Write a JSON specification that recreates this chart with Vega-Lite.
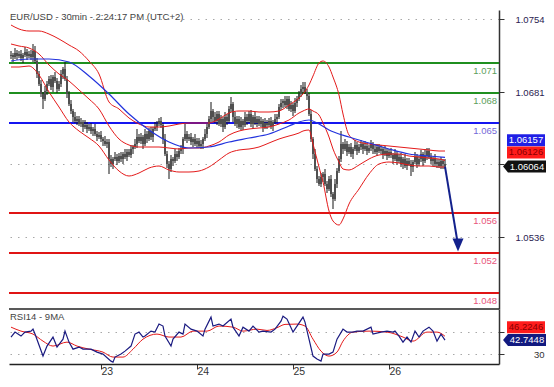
{
"$schema": "https://vega.github.io/schema/vega-lite/v6.json",
"background": "white",
"padding": {"left": 8, "top": 10, "right": 0, "bottom": 0},
"spacing": 0,
"bounds": "flush",
"datasets": {
"levels": [{"v":1.071,"kind":"resistance"},{"v":1.068,"kind":"resistance"},{"v":1.065,"kind":"pivot"},{"v":1.056,"kind":"support"},{"v":1.052,"kind":"support"},{"v":1.048,"kind":"support"}],
"bars": [
{"t":1,"o":1.0717,"h":1.0722,"l":1.0714,"c":1.0718},
{"t":2,"o":1.0718,"h":1.0720,"l":1.0711,"c":1.0716},
{"t":3,"o":1.0716,"h":1.0725,"l":1.0714,"c":1.0720},
{"t":4,"o":1.0720,"h":1.0723,"l":1.0713,"c":1.0717},
{"t":5,"o":1.0717,"h":1.0722,"l":1.0715,"c":1.0719},
{"t":6,"o":1.0719,"h":1.0723,"l":1.0712,"c":1.0715},
{"t":7,"o":1.0715,"h":1.0720,"l":1.0710,"c":1.0718},
{"t":8,"o":1.0718,"h":1.0726,"l":1.0716,"c":1.0721},
{"t":9,"o":1.0721,"h":1.0724,"l":1.0713,"c":1.0717},
{"t":10,"o":1.0717,"h":1.0722,"l":1.0715,"c":1.0719},
{"t":11,"o":1.0719,"h":1.0723,"l":1.0713,"c":1.0716},
{"t":12,"o":1.0716,"h":1.0729,"l":1.0711,"c":1.0722},
{"t":13,"o":1.0722,"h":1.0727,"l":1.0710,"c":1.0712},
{"t":14,"o":1.0712,"h":1.0715,"l":1.0695,"c":1.0699},
{"t":15,"o":1.0699,"h":1.0702,"l":1.0687,"c":1.0689},
{"t":16,"o":1.0689,"h":1.0693,"l":1.0676,"c":1.0679},
{"t":17,"o":1.0679,"h":1.0681,"l":1.0664,"c":1.0674},
{"t":18,"o":1.0674,"h":1.0687,"l":1.0672,"c":1.0682},
{"t":19,"o":1.0682,"h":1.0692,"l":1.0678,"c":1.0689},
{"t":20,"o":1.0689,"h":1.0697,"l":1.0687,"c":1.0694},
{"t":21,"o":1.0694,"h":1.0698,"l":1.0683,"c":1.0686},
{"t":22,"o":1.0686,"h":1.0698,"l":1.0681,"c":1.0696},
{"t":23,"o":1.0696,"h":1.0701,"l":1.0690,"c":1.0692},
{"t":24,"o":1.0692,"h":1.0695,"l":1.0680,"c":1.0684},
{"t":25,"o":1.0684,"h":1.0692,"l":1.0682,"c":1.0689},
{"t":26,"o":1.0689,"h":1.0703,"l":1.0686,"c":1.0699},
{"t":27,"o":1.0699,"h":1.0706,"l":1.0694,"c":1.0704},
{"t":28,"o":1.0704,"h":1.0711,"l":1.0692,"c":1.0694},
{"t":29,"o":1.0694,"h":1.0697,"l":1.0675,"c":1.0679},
{"t":30,"o":1.0679,"h":1.0682,"l":1.0667,"c":1.0669},
{"t":31,"o":1.0669,"h":1.0673,"l":1.0659,"c":1.0662},
{"t":32,"o":1.0662,"h":1.0664,"l":1.0651,"c":1.0656},
{"t":33,"o":1.0656,"h":1.0661,"l":1.0650,"c":1.0652},
{"t":34,"o":1.0652,"h":1.0657,"l":1.0648,"c":1.0654},
{"t":35,"o":1.0654,"h":1.0657,"l":1.0647,"c":1.0649},
{"t":36,"o":1.0649,"h":1.0655,"l":1.0646,"c":1.0651},
{"t":37,"o":1.0651,"h":1.0653,"l":1.0641,"c":1.0646},
{"t":38,"o":1.0646,"h":1.0653,"l":1.0644,"c":1.0648},
{"t":39,"o":1.0648,"h":1.0651,"l":1.0640,"c":1.0644},
{"t":40,"o":1.0644,"h":1.0649,"l":1.0642,"c":1.0646},
{"t":41,"o":1.0646,"h":1.0650,"l":1.0639,"c":1.0642},
{"t":42,"o":1.0642,"h":1.0646,"l":1.0637,"c":1.0644},
{"t":43,"o":1.0644,"h":1.0649,"l":1.0637,"c":1.0639},
{"t":44,"o":1.0639,"h":1.0642,"l":1.0632,"c":1.0636},
{"t":45,"o":1.0636,"h":1.0641,"l":1.0634,"c":1.0638},
{"t":46,"o":1.0638,"h":1.0642,"l":1.0631,"c":1.0634},
{"t":47,"o":1.0634,"h":1.0636,"l":1.0627,"c":1.0632},
{"t":48,"o":1.0632,"h":1.0637,"l":1.0627,"c":1.0629},
{"t":49,"o":1.0629,"h":1.0634,"l":1.0625,"c":1.0631},
{"t":50,"o":1.0631,"h":1.0634,"l":1.0599,"c":1.0614},
{"t":51,"o":1.0614,"h":1.0618,"l":1.0606,"c":1.0609},
{"t":52,"o":1.0609,"h":1.0616,"l":1.0604,"c":1.0614},
{"t":53,"o":1.0614,"h":1.0621,"l":1.0612,"c":1.0616},
{"t":54,"o":1.0616,"h":1.0619,"l":1.0608,"c":1.0612},
{"t":55,"o":1.0612,"h":1.0620,"l":1.0610,"c":1.0617},
{"t":56,"o":1.0617,"h":1.0621,"l":1.0611,"c":1.0614},
{"t":57,"o":1.0614,"h":1.0621,"l":1.0609,"c":1.0619},
{"t":58,"o":1.0619,"h":1.0624,"l":1.0614,"c":1.0616},
{"t":59,"o":1.0616,"h":1.0624,"l":1.0612,"c":1.0621},
{"t":60,"o":1.0621,"h":1.0624,"l":1.0616,"c":1.0618},
{"t":61,"o":1.0618,"h":1.0628,"l":1.0615,"c":1.0624},
{"t":62,"o":1.0624,"h":1.0628,"l":1.0619,"c":1.0626},
{"t":63,"o":1.0626,"h":1.0634,"l":1.0624,"c":1.0629},
{"t":64,"o":1.0629,"h":1.0644,"l":1.0625,"c":1.0636},
{"t":65,"o":1.0636,"h":1.0639,"l":1.0630,"c":1.0632},
{"t":66,"o":1.0632,"h":1.0640,"l":1.0629,"c":1.0636},
{"t":67,"o":1.0636,"h":1.0638,"l":1.0624,"c":1.0629},
{"t":68,"o":1.0629,"h":1.0644,"l":1.0627,"c":1.0639},
{"t":69,"o":1.0639,"h":1.0642,"l":1.0630,"c":1.0634},
{"t":70,"o":1.0634,"h":1.0645,"l":1.0632,"c":1.0642},
{"t":71,"o":1.0642,"h":1.0646,"l":1.0633,"c":1.0636},
{"t":72,"o":1.0636,"h":1.0646,"l":1.0631,"c":1.0644},
{"t":73,"o":1.0644,"h":1.0651,"l":1.0642,"c":1.0646},
{"t":74,"o":1.0646,"h":1.0652,"l":1.0642,"c":1.0649},
{"t":75,"o":1.0649,"h":1.0655,"l":1.0647,"c":1.0652},
{"t":76,"o":1.0652,"h":1.0656,"l":1.0645,"c":1.0648},
{"t":77,"o":1.0648,"h":1.0650,"l":1.0629,"c":1.0634},
{"t":78,"o":1.0634,"h":1.0639,"l":1.0617,"c":1.0619},
{"t":79,"o":1.0619,"h":1.0622,"l":1.0605,"c":1.0609},
{"t":80,"o":1.0609,"h":1.0612,"l":1.0594,"c":1.0604},
{"t":81,"o":1.0604,"h":1.0618,"l":1.0601,"c":1.0614},
{"t":82,"o":1.0614,"h":1.0616,"l":1.0607,"c":1.0612},
{"t":83,"o":1.0612,"h":1.0624,"l":1.0610,"c":1.0619},
{"t":84,"o":1.0619,"h":1.0622,"l":1.0612,"c":1.0616},
{"t":85,"o":1.0616,"h":1.0625,"l":1.0614,"c":1.0622},
{"t":86,"o":1.0622,"h":1.0628,"l":1.0619,"c":1.0624},
{"t":87,"o":1.0624,"h":1.0636,"l":1.0619,"c":1.0634},
{"t":88,"o":1.0634,"h":1.0649,"l":1.0632,"c":1.0639},
{"t":89,"o":1.0639,"h":1.0642,"l":1.0630,"c":1.0634},
{"t":90,"o":1.0634,"h":1.0639,"l":1.0632,"c":1.0636},
{"t":91,"o":1.0636,"h":1.0640,"l":1.0628,"c":1.0631},
{"t":92,"o":1.0631,"h":1.0636,"l":1.0626,"c":1.0634},
{"t":93,"o":1.0634,"h":1.0639,"l":1.0627,"c":1.0629},
{"t":94,"o":1.0629,"h":1.0635,"l":1.0625,"c":1.0632},
{"t":95,"o":1.0632,"h":1.0635,"l":1.0625,"c":1.0627},
{"t":96,"o":1.0627,"h":1.0633,"l":1.0624,"c":1.0629},
{"t":97,"o":1.0629,"h":1.0636,"l":1.0624,"c":1.0634},
{"t":98,"o":1.0634,"h":1.0644,"l":1.0632,"c":1.0639},
{"t":99,"o":1.0639,"h":1.0649,"l":1.0635,"c":1.0646},
{"t":100,"o":1.0646,"h":1.0657,"l":1.0644,"c":1.0654},
{"t":101,"o":1.0654,"h":1.0671,"l":1.0651,"c":1.0662},
{"t":102,"o":1.0662,"h":1.0664,"l":1.0651,"c":1.0656},
{"t":103,"o":1.0656,"h":1.0661,"l":1.0650,"c":1.0652},
{"t":104,"o":1.0652,"h":1.0662,"l":1.0648,"c":1.0659},
{"t":105,"o":1.0659,"h":1.0662,"l":1.0647,"c":1.0649},
{"t":106,"o":1.0649,"h":1.0658,"l":1.0646,"c":1.0654},
{"t":107,"o":1.0654,"h":1.0656,"l":1.0641,"c":1.0646},
{"t":108,"o":1.0646,"h":1.0661,"l":1.0644,"c":1.0656},
{"t":109,"o":1.0656,"h":1.0659,"l":1.0648,"c":1.0652},
{"t":110,"o":1.0652,"h":1.0667,"l":1.0650,"c":1.0664},
{"t":111,"o":1.0664,"h":1.0676,"l":1.0661,"c":1.0669},
{"t":112,"o":1.0669,"h":1.0671,"l":1.0651,"c":1.0656},
{"t":113,"o":1.0656,"h":1.0661,"l":1.0647,"c":1.0649},
{"t":114,"o":1.0649,"h":1.0657,"l":1.0645,"c":1.0654},
{"t":115,"o":1.0654,"h":1.0657,"l":1.0644,"c":1.0646},
{"t":116,"o":1.0646,"h":1.0656,"l":1.0643,"c":1.0652},
{"t":117,"o":1.0652,"h":1.0654,"l":1.0643,"c":1.0648},
{"t":118,"o":1.0648,"h":1.0661,"l":1.0646,"c":1.0656},
{"t":119,"o":1.0656,"h":1.0659,"l":1.0648,"c":1.0652},
{"t":120,"o":1.0652,"h":1.0662,"l":1.0650,"c":1.0659},
{"t":121,"o":1.0659,"h":1.0663,"l":1.0646,"c":1.0649},
{"t":122,"o":1.0649,"h":1.0658,"l":1.0644,"c":1.0656},
{"t":123,"o":1.0656,"h":1.0661,"l":1.0648,"c":1.0650},
{"t":124,"o":1.0650,"h":1.0657,"l":1.0646,"c":1.0654},
{"t":125,"o":1.0654,"h":1.0657,"l":1.0647,"c":1.0649},
{"t":126,"o":1.0649,"h":1.0656,"l":1.0646,"c":1.0652},
{"t":127,"o":1.0652,"h":1.0654,"l":1.0641,"c":1.0646},
{"t":128,"o":1.0646,"h":1.0655,"l":1.0644,"c":1.0650},
{"t":129,"o":1.0650,"h":1.0653,"l":1.0644,"c":1.0648},
{"t":130,"o":1.0648,"h":1.0655,"l":1.0646,"c":1.0652},
{"t":131,"o":1.0652,"h":1.0656,"l":1.0644,"c":1.0647},
{"t":132,"o":1.0647,"h":1.0653,"l":1.0642,"c":1.0651},
{"t":133,"o":1.0651,"h":1.0659,"l":1.0649,"c":1.0654},
{"t":134,"o":1.0654,"h":1.0659,"l":1.0650,"c":1.0656},
{"t":135,"o":1.0656,"h":1.0669,"l":1.0654,"c":1.0666},
{"t":136,"o":1.0666,"h":1.0674,"l":1.0663,"c":1.0670},
{"t":137,"o":1.0670,"h":1.0674,"l":1.0665,"c":1.0672},
{"t":138,"o":1.0672,"h":1.0677,"l":1.0666,"c":1.0668},
{"t":139,"o":1.0668,"h":1.0677,"l":1.0664,"c":1.0674},
{"t":140,"o":1.0674,"h":1.0677,"l":1.0662,"c":1.0664},
{"t":141,"o":1.0664,"h":1.0672,"l":1.0661,"c":1.0668},
{"t":142,"o":1.0668,"h":1.0670,"l":1.0657,"c":1.0662},
{"t":143,"o":1.0662,"h":1.0675,"l":1.0660,"c":1.0670},
{"t":144,"o":1.0670,"h":1.0677,"l":1.0666,"c":1.0674},
{"t":145,"o":1.0674,"h":1.0682,"l":1.0672,"c":1.0679},
{"t":146,"o":1.0679,"h":1.0688,"l":1.0676,"c":1.0684},
{"t":147,"o":1.0684,"h":1.0691,"l":1.0679,"c":1.0686},
{"t":148,"o":1.0686,"h":1.0691,"l":1.0679,"c":1.0681},
{"t":149,"o":1.0681,"h":1.0684,"l":1.0673,"c":1.0677},
{"t":150,"o":1.0677,"h":1.0680,"l":1.0657,"c":1.0659},
{"t":151,"o":1.0659,"h":1.0663,"l":1.0631,"c":1.0634},
{"t":152,"o":1.0634,"h":1.0636,"l":1.0614,"c":1.0619},
{"t":153,"o":1.0619,"h":1.0624,"l":1.0602,"c":1.0604},
{"t":154,"o":1.0604,"h":1.0607,"l":1.0590,"c":1.0594},
{"t":155,"o":1.0594,"h":1.0597,"l":1.0587,"c":1.0589},
{"t":156,"o":1.0589,"h":1.0600,"l":1.0586,"c":1.0596},
{"t":157,"o":1.0596,"h":1.0601,"l":1.0591,"c":1.0599},
{"t":158,"o":1.0599,"h":1.0604,"l":1.0587,"c":1.0589},
{"t":159,"o":1.0589,"h":1.0592,"l":1.0580,"c":1.0584},
{"t":160,"o":1.0584,"h":1.0597,"l":1.0582,"c":1.0594},
{"t":161,"o":1.0594,"h":1.0598,"l":1.0576,"c":1.0579},
{"t":162,"o":1.0579,"h":1.0581,"l":1.0564,"c":1.0574},
{"t":163,"o":1.0574,"h":1.0594,"l":1.0572,"c":1.0589},
{"t":164,"o":1.0589,"h":1.0605,"l":1.0585,"c":1.0602},
{"t":165,"o":1.0602,"h":1.0617,"l":1.0600,"c":1.0614},
{"t":166,"o":1.0614,"h":1.0642,"l":1.0611,"c":1.0629},
{"t":167,"o":1.0629,"h":1.0631,"l":1.0619,"c":1.0624},
{"t":168,"o":1.0624,"h":1.0634,"l":1.0622,"c":1.0629},
{"t":169,"o":1.0629,"h":1.0632,"l":1.0617,"c":1.0621},
{"t":170,"o":1.0621,"h":1.0629,"l":1.0619,"c":1.0626},
{"t":171,"o":1.0626,"h":1.0630,"l":1.0616,"c":1.0619},
{"t":172,"o":1.0619,"h":1.0626,"l":1.0614,"c":1.0624},
{"t":173,"o":1.0624,"h":1.0633,"l":1.0622,"c":1.0628},
{"t":174,"o":1.0628,"h":1.0631,"l":1.0618,"c":1.0622},
{"t":175,"o":1.0622,"h":1.0629,"l":1.0620,"c":1.0626},
{"t":176,"o":1.0626,"h":1.0633,"l":1.0623,"c":1.0629},
{"t":177,"o":1.0629,"h":1.0631,"l":1.0619,"c":1.0624},
{"t":178,"o":1.0624,"h":1.0632,"l":1.0622,"c":1.0627},
{"t":179,"o":1.0627,"h":1.0630,"l":1.0618,"c":1.0622},
{"t":180,"o":1.0622,"h":1.0628,"l":1.0620,"c":1.0625},
{"t":181,"o":1.0625,"h":1.0633,"l":1.0622,"c":1.0629},
{"t":182,"o":1.0629,"h":1.0631,"l":1.0619,"c":1.0624},
{"t":183,"o":1.0624,"h":1.0629,"l":1.0619,"c":1.0621},
{"t":184,"o":1.0621,"h":1.0629,"l":1.0617,"c":1.0626},
{"t":185,"o":1.0626,"h":1.0629,"l":1.0620,"c":1.0622},
{"t":186,"o":1.0622,"h":1.0628,"l":1.0619,"c":1.0624},
{"t":187,"o":1.0624,"h":1.0626,"l":1.0614,"c":1.0619},
{"t":188,"o":1.0619,"h":1.0627,"l":1.0617,"c":1.0622},
{"t":189,"o":1.0622,"h":1.0625,"l":1.0613,"c":1.0617},
{"t":190,"o":1.0617,"h":1.0624,"l":1.0615,"c":1.0621},
{"t":191,"o":1.0621,"h":1.0625,"l":1.0615,"c":1.0618},
{"t":192,"o":1.0618,"h":1.0620,"l":1.0609,"c":1.0614},
{"t":193,"o":1.0614,"h":1.0624,"l":1.0612,"c":1.0619},
{"t":194,"o":1.0619,"h":1.0622,"l":1.0608,"c":1.0612},
{"t":195,"o":1.0612,"h":1.0619,"l":1.0610,"c":1.0616},
{"t":196,"o":1.0616,"h":1.0620,"l":1.0606,"c":1.0609},
{"t":197,"o":1.0609,"h":1.0616,"l":1.0604,"c":1.0614},
{"t":198,"o":1.0614,"h":1.0619,"l":1.0605,"c":1.0607},
{"t":199,"o":1.0607,"h":1.0615,"l":1.0603,"c":1.0612},
{"t":200,"o":1.0612,"h":1.0615,"l":1.0607,"c":1.0609},
{"t":201,"o":1.0609,"h":1.0613,"l":1.0597,"c":1.0606},
{"t":202,"o":1.0606,"h":1.0613,"l":1.0601,"c":1.0611},
{"t":203,"o":1.0611,"h":1.0621,"l":1.0609,"c":1.0616},
{"t":204,"o":1.0616,"h":1.0619,"l":1.0605,"c":1.0609},
{"t":205,"o":1.0609,"h":1.0617,"l":1.0607,"c":1.0614},
{"t":206,"o":1.0614,"h":1.0623,"l":1.0611,"c":1.0619},
{"t":207,"o":1.0619,"h":1.0621,"l":1.0607,"c":1.0612},
{"t":208,"o":1.0612,"h":1.0624,"l":1.0610,"c":1.0617},
{"t":209,"o":1.0617,"h":1.0625,"l":1.0613,"c":1.0622},
{"t":210,"o":1.0622,"h":1.0625,"l":1.0614,"c":1.0616},
{"t":211,"o":1.0616,"h":1.0620,"l":1.0609,"c":1.0612},
{"t":212,"o":1.0612,"h":1.0616,"l":1.0607,"c":1.0614},
{"t":213,"o":1.0614,"h":1.0619,"l":1.0607,"c":1.0609},
{"t":214,"o":1.0609,"h":1.0614,"l":1.0605,"c":1.0611},
{"t":215,"o":1.0611,"h":1.0614,"l":1.0605,"c":1.0607},
{"t":216,"o":1.0607,"h":1.0616,"l":1.0604,"c":1.0612},
{"t":217,"o":1.0612,"h":1.0614,"l":1.0604,"c":1.0609},
{"t":218,"o":1.0609,"h":1.0614,"l":1.0604,"c":1.06064}
],
"bands": [
{"t":1,"up":1.0748,"mid":1.0729,"lo":1.0706},
{"t":5,"up":1.0744,"mid":1.0727,"lo":1.0706},
{"t":10,"up":1.0742,"mid":1.0725,"lo":1.0707},
{"t":15,"up":1.0742,"mid":1.0719,"lo":1.0698},
{"t":20,"up":1.0739,"mid":1.0708,"lo":1.0681},
{"t":25,"up":1.0734,"mid":1.0699,"lo":1.0666},
{"t":30,"up":1.0728,"mid":1.0692,"lo":1.0651},
{"t":35,"up":1.0722,"mid":1.0683,"lo":1.0642},
{"t":40,"up":1.0712,"mid":1.0674,"lo":1.0635},
{"t":45,"up":1.0699,"mid":1.0664,"lo":1.0627},
{"t":50,"up":1.0671,"mid":1.0647,"lo":1.0613},
{"t":55,"up":1.0664,"mid":1.0634,"lo":1.0602},
{"t":60,"up":1.0655,"mid":1.0628,"lo":1.0597},
{"t":65,"up":1.0649,"mid":1.0626,"lo":1.0600},
{"t":70,"up":1.0646,"mid":1.0626,"lo":1.0605},
{"t":75,"up":1.0646,"mid":1.0626,"lo":1.0607},
{"t":80,"up":1.0647,"mid":1.0625,"lo":1.0603},
{"t":85,"up":1.0649,"mid":1.0624,"lo":1.0601},
{"t":90,"up":1.0650,"mid":1.0625,"lo":1.0601},
{"t":95,"up":1.0650,"mid":1.0625,"lo":1.0602},
{"t":100,"up":1.0650,"mid":1.0627,"lo":1.0606},
{"t":105,"up":1.0654,"mid":1.0631,"lo":1.0613},
{"t":110,"up":1.0660,"mid":1.0638,"lo":1.0620},
{"t":115,"up":1.0662,"mid":1.0642,"lo":1.0623},
{"t":120,"up":1.0662,"mid":1.0644,"lo":1.0624},
{"t":125,"up":1.0661,"mid":1.0645,"lo":1.0626},
{"t":130,"up":1.0661,"mid":1.0646,"lo":1.0630},
{"t":135,"up":1.0662,"mid":1.0649,"lo":1.0634},
{"t":140,"up":1.0668,"mid":1.0653,"lo":1.0637},
{"t":145,"up":1.0675,"mid":1.0660,"lo":1.0640},
{"t":147,"up":1.0679,"mid":1.0662,"lo":1.0642},
{"t":150,"up":1.0688,"mid":1.0664,"lo":1.0643},
{"t":152,"up":1.0697,"mid":1.0662,"lo":1.0629},
{"t":155,"up":1.0710,"mid":1.0658,"lo":1.0606},
{"t":157,"up":1.0712,"mid":1.0650,"lo":1.0591},
{"t":160,"up":1.0706,"mid":1.0636,"lo":1.0562},
{"t":162,"up":1.0696,"mid":1.0624,"lo":1.0552},
{"t":165,"up":1.0678,"mid":1.0611,"lo":1.0548},
{"t":167,"up":1.0659,"mid":1.0604,"lo":1.0554},
{"t":170,"up":1.0638,"mid":1.0603,"lo":1.0569},
{"t":175,"up":1.0631,"mid":1.0608,"lo":1.0584},
{"t":180,"up":1.0629,"mid":1.0614,"lo":1.0599},
{"t":185,"up":1.0628,"mid":1.0618,"lo":1.0609},
{"t":190,"up":1.0627,"mid":1.0619,"lo":1.0611},
{"t":195,"up":1.0626,"mid":1.0619,"lo":1.0610},
{"t":200,"up":1.0625,"mid":1.0617,"lo":1.0608},
{"t":205,"up":1.0624,"mid":1.0616,"lo":1.0607},
{"t":210,"up":1.0623,"mid":1.0615,"lo":1.0607},
{"t":215,"up":1.0622,"mid":1.0614,"lo":1.0606},
{"t":218,"up":1.0622,"mid":1.06126,"lo":1.0606}
],
"ma": [
{"t":1,"v":1.0712},{"t":10,"v":1.0714},{"t":20,"v":1.0714},{"t":30,"v":1.0711},{"t":40,"v":1.0697},{"t":50,"v":1.0679},{"t":60,"v":1.0659},{"t":70,"v":1.0643},{"t":80,"v":1.0631},{"t":90,"v":1.0625},{"t":100,"v":1.0626},{"t":110,"v":1.0631},{"t":120,"v":1.0635},{"t":130,"v":1.0639},{"t":140,"v":1.0647},{"t":145,"v":1.0651},{"t":150,"v":1.0653},{"t":155,"v":1.0649},{"t":160,"v":1.0643},{"t":170,"v":1.0636},{"t":180,"v":1.0630},{"t":190,"v":1.0624},{"t":200,"v":1.0619},{"t":210,"v":1.0617},{"t":218,"v":1.06157}
],
"arrow": [{"t":218,"p":1.06064},{"t":224.5,"p":1.0528}],
"tags": [{"series":"ma","v":1.06157},{"series":"mid","v":1.06126},{"series":"close","v":1.06064}],
"rsi": [
{"t":1,"v":45.5},{"t":3,"v":50.0},{"t":6,"v":46.4},{"t":8,"v":50.0},{"t":11,"v":50.9},{"t":12,"v":52.7},{"t":13,"v":48.2},{"t":17,"v":28.2},{"t":19,"v":37.3},{"t":22,"v":45.5},{"t":24,"v":36.4},{"t":27,"v":43.6},{"t":28,"v":50.9},{"t":30,"v":40.9},{"t":32,"v":34.5},{"t":35,"v":36.4},{"t":37,"v":34.5},{"t":41,"v":34.5},{"t":44,"v":31.8},{"t":47,"v":30.0},{"t":51,"v":23.6},{"t":52,"v":22.7},{"t":53,"v":27.3},{"t":56,"v":30.0},{"t":58,"v":32.7},{"t":61,"v":37.3},{"t":63,"v":48.2},{"t":65,"v":50.0},{"t":67,"v":45.5},{"t":68,"v":46.4},{"t":71,"v":50.9},{"t":73,"v":50.0},{"t":75,"v":57.3},{"t":77,"v":55.5},{"t":78,"v":46.4},{"t":81,"v":37.3},{"t":82,"v":43.6},{"t":85,"v":50.0},{"t":87,"v":48.2},{"t":88,"v":57.3},{"t":91,"v":52.7},{"t":94,"v":50.9},{"t":97,"v":46.4},{"t":98,"v":52.7},{"t":101,"v":63.6},{"t":102,"v":55.5},{"t":105,"v":57.3},{"t":107,"v":55.5},{"t":111,"v":61.8},{"t":112,"v":54.5},{"t":115,"v":46.4},{"t":117,"v":54.5},{"t":120,"v":50.9},{"t":122,"v":55.5},{"t":125,"v":50.0},{"t":127,"v":50.9},{"t":131,"v":50.0},{"t":133,"v":52.7},{"t":136,"v":60.0},{"t":137,"v":64.5},{"t":139,"v":61.8},{"t":142,"v":50.0},{"t":144,"v":55.5},{"t":147,"v":63.6},{"t":148,"v":59.1},{"t":150,"v":43.6},{"t":152,"v":28.2},{"t":154,"v":25.5},{"t":156,"v":23.6},{"t":157,"v":30.0},{"t":160,"v":30.0},{"t":162,"v":31.8},{"t":164,"v":43.6},{"t":167,"v":52.7},{"t":169,"v":50.0},{"t":172,"v":50.0},{"t":174,"v":50.9},{"t":177,"v":50.9},{"t":181,"v":54.5},{"t":182,"v":48.2},{"t":186,"v":50.0},{"t":189,"v":50.9},{"t":192,"v":50.0},{"t":193,"v":50.9},{"t":195,"v":46.4},{"t":197,"v":40.9},{"t":199,"v":45.5},{"t":201,"v":40.9},{"t":203,"v":50.9},{"t":205,"v":45.5},{"t":207,"v":50.9},{"t":210,"v":54.5},{"t":212,"v":50.9},{"t":214,"v":41.8},{"t":216,"v":48.2},{"t":218,"v":42.7448}
],
"rsima": [
{"t":1,"v":54.5},{"t":6,"v":50.9},{"t":12,"v":48.2},{"t":17,"v":41.8},{"t":22,"v":37.3},{"t":29,"v":40.9},{"t":34,"v":37.3},{"t":40,"v":34.5},{"t":47,"v":31.8},{"t":52,"v":27.3},{"t":57,"v":27.3},{"t":62,"v":34.5},{"t":67,"v":43.6},{"t":74,"v":48.2},{"t":80,"v":45.5},{"t":86,"v":45.5},{"t":92,"v":50.9},{"t":99,"v":50.9},{"t":105,"v":55.5},{"t":112,"v":54.5},{"t":117,"v":50.9},{"t":124,"v":52.7},{"t":129,"v":51.5},{"t":134,"v":54.0},{"t":138,"v":57.0},{"t":144,"v":57.3},{"t":148,"v":55.5},{"t":152,"v":43.6},{"t":156,"v":32.7},{"t":160,"v":28.2},{"t":164,"v":31.8},{"t":167,"v":41.8},{"t":172,"v":50.0},{"t":180,"v":50.9},{"t":189,"v":50.0},{"t":197,"v":45.5},{"t":202,"v":41.8},{"t":209,"v":50.0},{"t":214,"v":50.0},{"t":218,"v":46.2246}
],
"rsitags": [{"series":"ma","v":46.2246},{"series":"rsi","v":42.7448}]
},
"vconcat": [
{
"width": 490, "height": 299,
"resolve": {"scale": {"color": "independent"}},
"layer": [
{"data": {"name": "levels"}, "mark": {"type": "rule", "strokeWidth": 2},
 "encoding": {
  "y": {"field": "v", "type": "quantitative", "title": null,
        "scale": {"domain": [1.0464, 1.0763], "nice": false, "zero": false},
        "axis": {"orient": "right", "values": [1.0754, 1.0681, 1.0609, 1.0536],
                 "labelExpr": "abs(datum.value - 1.0609) < 0.00005 ? '' : format(datum.value, '.4f')",
                 "grid": true, "gridDash": [1.5, 6], "gridColor": "#a8a8a8",
                 "domainColor": "#333333", "domainWidth": 1.5, "tickColor": "#333333", "tickSize": 5,
                 "labelAlign": "right", "labelBaseline": "middle", "labelPadding": 40}},
  "color": {"field": "kind", "type": "nominal", "legend": null,
            "scale": {"domain": ["resistance", "pivot", "support"], "range": ["#1f8f1f", "#1515f0", "#e01414"]}}}},
{"data": {"name": "levels"}, "mark": {"type": "text", "align": "right", "baseline": "middle", "dy": 8, "fontSize": 9.5},
 "encoding": {
  "x": {"datum": 244, "type": "quantitative", "scale": {"domain": [0, 245], "nice": false, "zero": false}, "axis": null, "title": null},
  "y": {"field": "v", "type": "quantitative", "title": null},
  "text": {"field": "v", "type": "quantitative", "format": ".3f"},
  "color": {"field": "kind", "type": "nominal", "legend": null,
            "scale": {"domain": ["resistance", "pivot", "support"], "range": ["#5c9e5c", "#7468d8", "#e8557c"]}}}},
{"data": {"name": "bars"}, "mark": {"type": "rule", "strokeWidth": 2, "color": "#8c8c8c"},
 "encoding": {
  "x": {"field": "t", "type": "quantitative", "scale": {"domain": [0, 245], "nice": false, "zero": false}, "axis": null, "title": null},
  "y": {"field": "o", "type": "quantitative", "title": null}, "y2": {"field": "c"}}},
{"data": {"name": "bars"}, "mark": {"type": "rule", "strokeWidth": 1, "color": "#151515"},
 "encoding": {
  "x": {"field": "t", "type": "quantitative", "axis": null, "title": null},
  "y": {"field": "l", "type": "quantitative", "title": null}, "y2": {"field": "h"}}},
{"data": {"name": "bands"}, "mark": {"type": "line", "color": "#e41a1a", "strokeWidth": 1, "interpolate": "monotone"},
 "encoding": {"x": {"field": "t", "type": "quantitative", "axis": null, "title": null}, "y": {"field": "up", "type": "quantitative", "title": null}}},
{"data": {"name": "bands"}, "mark": {"type": "line", "color": "#e41a1a", "strokeWidth": 1, "interpolate": "monotone"},
 "encoding": {"x": {"field": "t", "type": "quantitative", "axis": null, "title": null}, "y": {"field": "mid", "type": "quantitative", "title": null}}},
{"data": {"name": "bands"}, "mark": {"type": "line", "color": "#e41a1a", "strokeWidth": 1, "interpolate": "monotone"},
 "encoding": {"x": {"field": "t", "type": "quantitative", "axis": null, "title": null}, "y": {"field": "lo", "type": "quantitative", "title": null}}},
{"data": {"name": "ma"}, "mark": {"type": "line", "color": "#2233dd", "strokeWidth": 1.2, "interpolate": "monotone"},
 "encoding": {"x": {"field": "t", "type": "quantitative", "axis": null, "title": null}, "y": {"field": "v", "type": "quantitative", "title": null}}},
{"data": {"name": "arrow"}, "mark": {"type": "line", "color": "#13218c", "strokeWidth": 2},
 "encoding": {"x": {"field": "t", "type": "quantitative", "axis": null, "title": null}, "y": {"field": "p", "type": "quantitative", "title": null}}},
{"data": {"name": "arrow"}, "transform": [{"filter": "datum.t > 220"}],
 "mark": {"type": "point", "shape": "M-1,-1.2L1,-1.2L0,1.2Z", "size": 121, "filled": true, "opacity": 1, "color": "#13218c"},
 "encoding": {"x": {"field": "t", "type": "quantitative", "axis": null, "title": null}, "y": {"field": "p", "type": "quantitative", "title": null}}},
{"data": {"values": [{"label": "EUR/USD - 30min - 2:24:17 PM (UTC+2)"}]},
 "mark": {"type": "text", "align": "left", "baseline": "top", "dx": 1, "dy": 2, "fontSize": 9.5, "color": "#444444"},
 "encoding": {"x": {"datum": 0, "type": "quantitative", "axis": null, "title": null}, "y": {"datum": 1.0763, "type": "quantitative", "title": null}, "text": {"field": "label"}}},
{"data": {"name": "tags"}, "transform": [{"filter": "datum.series == 'ma'"}],
 "mark": {"type": "point", "shape": "M-1,-0.3158H1V0.3158H-1Z", "size": 1444, "filled": true, "opacity": 1, "color": "#1f1fe6", "yOffset": -17},
 "encoding": {"x": {"datum": 258.5, "type": "quantitative", "axis": null, "title": null}, "y": {"field": "v", "type": "quantitative", "title": null}}},
{"data": {"name": "tags"}, "transform": [{"filter": "datum.series == 'ma'"}],
 "mark": {"type": "text", "color": "white", "yOffset": -17, "fontSize": 9.5, "align": "center", "baseline": "middle"},
 "encoding": {"x": {"datum": 258.5, "type": "quantitative", "axis": null, "title": null}, "y": {"field": "v", "type": "quantitative", "title": null}, "text": {"field": "v", "type": "quantitative", "format": ".5f"}}},
{"data": {"name": "tags"}, "transform": [{"filter": "datum.series == 'mid'"}],
 "mark": {"type": "point", "shape": "M-1,-0.3158H1V0.3158H-1Z", "size": 1444, "filled": true, "opacity": 1, "color": "#ff1c1c", "yOffset": -8},
 "encoding": {"x": {"datum": 258.5, "type": "quantitative", "axis": null, "title": null}, "y": {"field": "v", "type": "quantitative", "title": null}}},
{"data": {"name": "tags"}, "transform": [{"filter": "datum.series == 'mid'"}],
 "mark": {"type": "text", "color": "#8a0000", "yOffset": -8, "fontSize": 9.5, "align": "center", "baseline": "middle"},
 "encoding": {"x": {"datum": 258.5, "type": "quantitative", "axis": null, "title": null}, "y": {"field": "v", "type": "quantitative", "title": null}, "text": {"field": "v", "type": "quantitative", "format": ".5f"}}},
{"data": {"name": "tags"}, "transform": [{"filter": "datum.series == 'close'"}],
 "mark": {"type": "point", "shape": "M-1.26,0L-1,-0.3158H1V0.3158H-1Z", "size": 1444, "filled": true, "opacity": 1, "color": "#111111"},
 "encoding": {"x": {"datum": 259, "type": "quantitative", "axis": null, "title": null}, "y": {"field": "v", "type": "quantitative", "title": null}}},
{"data": {"name": "tags"}, "transform": [{"filter": "datum.series == 'close'"}],
 "mark": {"type": "text", "color": "white", "fontSize": 9.5, "align": "center", "baseline": "middle"},
 "encoding": {"x": {"datum": 259, "type": "quantitative", "axis": null, "title": null}, "y": {"field": "v", "type": "quantitative", "title": null}, "text": {"field": "v", "type": "quantitative", "format": ".5f"}}}
]
},
{
"width": 490, "height": 55,
"layer": [
{"data": {"values": [{}]}, "mark": {"type": "rule", "color": "#222222", "strokeWidth": 1.5},
 "encoding": {"y": {"datum": 71, "type": "quantitative", "title": null, "scale": {"domain": [21, 71], "nice": false, "zero": false}}}},
{"data": {"name": "rsima"}, "mark": {"type": "line", "color": "#e41a1a", "strokeWidth": 1, "interpolate": "monotone"},
 "encoding": {"x": {"field": "t", "type": "quantitative", "title": null, "scale": {"domain": [0, 245], "nice": false, "zero": false}},
              "y": {"field": "v", "type": "quantitative", "title": null}}},
{"data": {"name": "rsi"}, "mark": {"type": "line", "color": "#1a1a80", "strokeWidth": 1.2},
 "encoding": {
  "x": {"field": "t", "type": "quantitative", "title": null,
        "axis": {"orient": "bottom", "values": [46, 94, 142, 190],
                 "labelExpr": "datum.value == 46 ? '23' : datum.value == 94 ? '24' : datum.value == 142 ? '25' : '26'",
                 "grid": false, "tickSize": 5, "tickColor": "#333333", "domainColor": "#222222", "domainWidth": 1.5,
                 "labelAlign": "left", "labelBaseline": "top", "labelPadding": -3, "labelDx": 1, "labelFontSize": 10.5, "labelColor": "#333333"}},
  "y": {"field": "v", "type": "quantitative", "title": null,
        "axis": {"orient": "right", "values": [30, 50], "labelExpr": "datum.value == 30 ? '30' : ''",
                 "grid": true, "gridDash": [1.5, 6], "gridColor": "#a8a8a8",
                 "domainColor": "#333333", "domainWidth": 1.5, "tickColor": "#333333", "tickSize": 5,
                 "labelAlign": "right", "labelBaseline": "middle", "labelPadding": 40, "labelColor": "#333333"}}}},
{"data": {"values": [{"label": "RSI14 - 9MA"}]},
 "mark": {"type": "text", "align": "left", "baseline": "top", "dx": 1, "dy": 3, "fontSize": 9.5, "color": "#444444"},
 "encoding": {"x": {"datum": 0, "type": "quantitative", "title": null}, "y": {"datum": 71, "type": "quantitative", "title": null}, "text": {"field": "label"}}},
{"data": {"name": "rsitags"}, "transform": [{"filter": "datum.series == 'ma'"}],
 "mark": {"type": "point", "shape": "M-1,-0.3158H1V0.3158H-1Z", "size": 1444, "filled": true, "opacity": 1, "color": "#ff1c1c", "yOffset": -9},
 "encoding": {"x": {"datum": 258.5, "type": "quantitative", "title": null}, "y": {"field": "v", "type": "quantitative", "title": null}}},
{"data": {"name": "rsitags"}, "transform": [{"filter": "datum.series == 'ma'"}],
 "mark": {"type": "text", "color": "#8a0000", "yOffset": -9, "fontSize": 9.5, "align": "center", "baseline": "middle"},
 "encoding": {"x": {"datum": 258.5, "type": "quantitative", "title": null}, "y": {"field": "v", "type": "quantitative", "title": null}, "text": {"field": "v", "type": "quantitative", "format": ".4f"}}},
{"data": {"name": "rsitags"}, "transform": [{"filter": "datum.series == 'rsi'"}],
 "mark": {"type": "point", "shape": "M-1.26,0L-1,-0.3158H1V0.3158H-1Z", "size": 1444, "filled": true, "opacity": 1, "color": "#121a80"},
 "encoding": {"x": {"datum": 259, "type": "quantitative", "title": null}, "y": {"field": "v", "type": "quantitative", "title": null}}},
{"data": {"name": "rsitags"}, "transform": [{"filter": "datum.series == 'rsi'"}],
 "mark": {"type": "text", "color": "white", "fontSize": 9.5, "align": "center", "baseline": "middle"},
 "encoding": {"x": {"datum": 259, "type": "quantitative", "title": null}, "y": {"field": "v", "type": "quantitative", "title": null}, "text": {"field": "v", "type": "quantitative", "format": ".4f"}}}
]
}
],
"config": {
 "view": {"stroke": null},
 "font": "Liberation Sans",
 "axis": {"labelFont": "Liberation Sans", "labelFontSize": 9.5, "labelColor": "#2a2250"},
 "text": {"font": "Liberation Sans"}
}
}
